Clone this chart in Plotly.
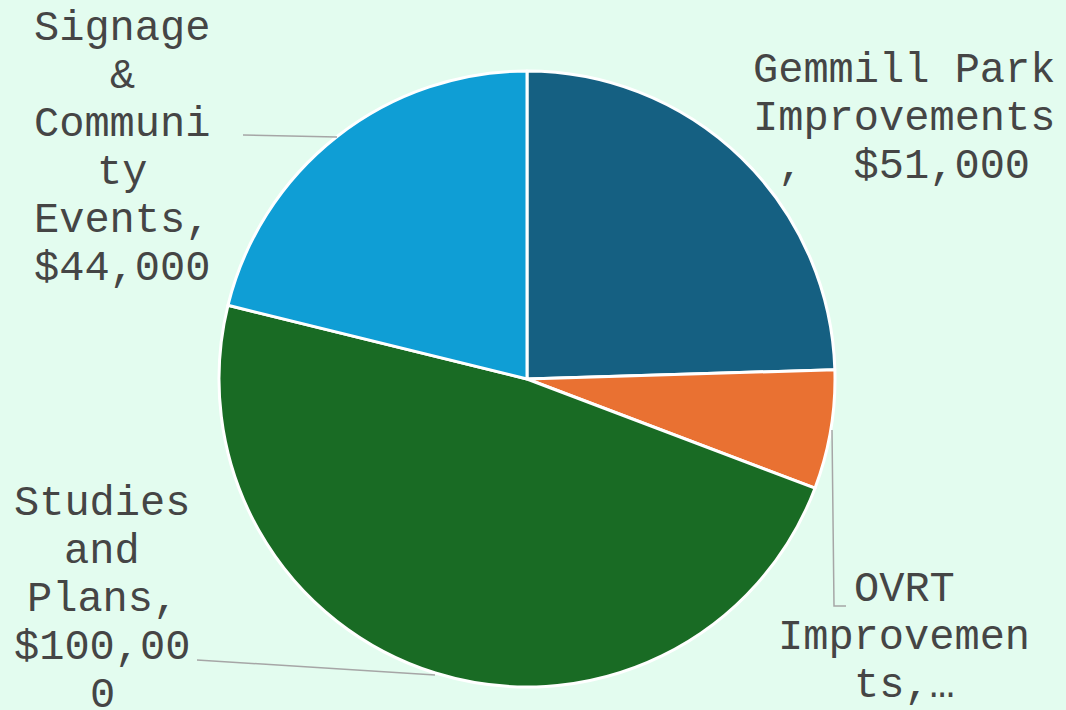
import plotly.graph_objects as go

categories = ["Gemmill Park Improvements", "OVRT Improvements", "Studies and Plans",
              "Signage & Community Events"]
values = [51000, 13000, 100000, 44000]
colors = ["#156082", "#E97132", "#196B24", "#0F9ED5"]

# wrapped data labels as displayed (category, value)
label_lines = [
    ["Gemmill Park", "Improvements", ",\u00a0\u00a0$51,000"],
    ["OVRT", "Improvemen", "ts,\u2026"],
    ["Studies", "and", "Plans,", "$100,00", "0"],
    ["Signage", "&", "Communi", "ty", "Events,", "$44,000"],
]
# label anchor (center x px, first-line center y px)
label_pos = [(904, 71), (904, 590), (102, 504), (122, 29)]
LINE_H = 48

W, H = 1066, 710
BG = "#E3FCEF"
TXT = "#454545"

fig = go.Figure()
fig.add_trace(go.Pie(
    labels=categories, values=values, sort=False, direction="clockwise", rotation=0,
    marker=dict(colors=colors, line=dict(color="white", width=3)),
    textinfo="none", hoverinfo="label+value+percent", showlegend=False,
    domain=dict(x=[219 / W, 835 / W], y=[(H - 687) / H, (H - 71) / H]),
))

annotations = []
for lines, (cx, cy) in zip(label_lines, label_pos):
    for i, t in enumerate(lines):
        annotations.append(dict(
            x=cx / W, y=1 - (cy + i * LINE_H) / H, xref="paper", yref="paper",
            text=t, showarrow=False, xanchor="center", yanchor="middle",
            font=dict(family="Liberation Mono, Courier New, monospace", size=42, color=TXT),
        ))

leaders = [
    [(243, 135), (337, 137)],
    [(197, 660), (435, 675)],
    [(832, 430), (834, 606), (846, 606)],
]
shapes = []
for pts in leaders:
    path = "M " + " L ".join(f"{x / W},{1 - y / H}" for x, y in pts)
    shapes.append(dict(type="path", xref="paper", yref="paper", path=path,
                       line=dict(color="#A6A6A6", width=1.5)))

fig.update_layout(
    width=W, height=H, margin=dict(l=0, r=0, t=0, b=0),
    paper_bgcolor=BG, plot_bgcolor=BG,
    annotations=annotations, shapes=shapes,
)
fig.write_html("out.html", config={"displayModeBar": False},
               post_script="document.body.style.margin='0';document.body.style.padding='0';"
                           "document.body.style.overflow='hidden';")
